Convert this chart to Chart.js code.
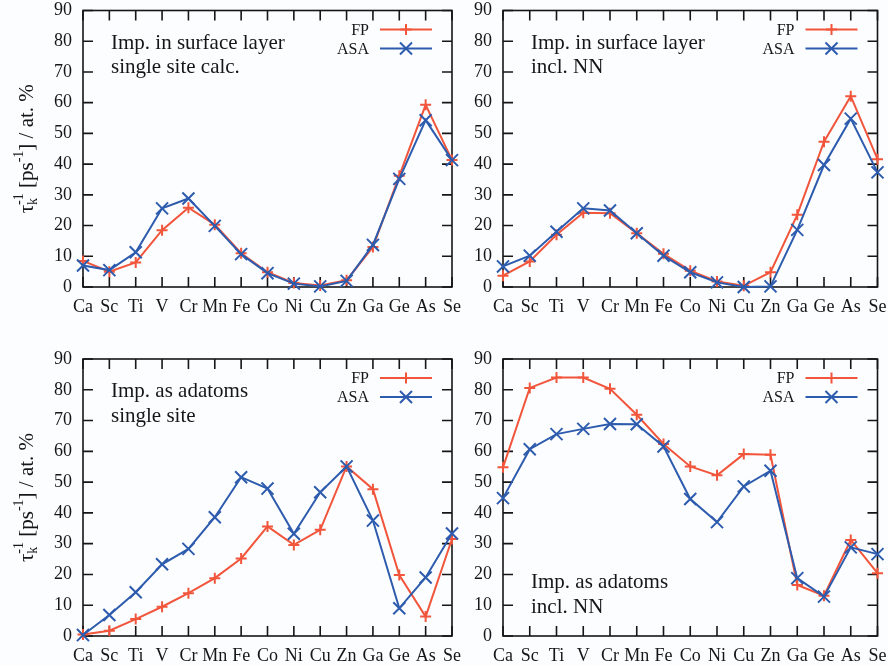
<!DOCTYPE html>
<html>
<head>
<meta charset="utf-8">
<script src="https://cdn.jsdelivr.net/npm/chart.js@4.4.1/dist/chart.umd.min.js"></script>
<style>
  html, body { margin: 0; padding: 0; background: #fcfdff; }
  #wrap { position: relative; width: 888px; height: 665px; overflow: hidden; }
  #wrap canvas { position: absolute; left: 0; top: 0; }
</style>
</head>
<body>
<div id="wrap">
  <canvas id="surf" width="888" height="700"></canvas>
  <canvas id="surfNN" width="888" height="700"></canvas>
  <canvas id="ad" width="888" height="700"></canvas>
  <canvas id="adNN" width="888" height="700"></canvas>
</div>
<script>
// impurities along the x axis
var elements = ['Ca', 'Sc', 'Ti', 'V', 'Cr', 'Mn', 'Fe', 'Co', 'Ni', 'Cu', 'Zn', 'Ga', 'Ge', 'As', 'Se'];
var yTickValues = [0, 10, 20, 30, 40, 50, 60, 70, 80, 90];

// impurity in surface layer, single site
var surfFP  = [8.5, 5.0, 8.0, 18.5, 25.8, 20.3, 11.0, 4.8, 1.3, 0.5, 2.2, 13.0, 36.2, 59.3, 41.3];
var surfASA = [7.0, 5.5, 11.3, 25.6, 28.8, 19.9, 10.7, 4.5, 1.1, 0.2, 2.0, 13.7, 35.2, 54.3, 41.3];
// impurity in surface layer, incl. nearest neighbours
var surfNNFP  = [3.7, 8.3, 17.0, 24.2, 24.0, 17.5, 10.8, 5.3, 1.8, 0.4, 4.8, 23.5, 47.3, 62.1, 41.6];
var surfNNASA = [6.7, 10.2, 18.0, 25.6, 24.9, 17.5, 10.2, 4.8, 1.5, 0.0, 0.2, 18.6, 39.7, 54.8, 37.3];
// adatoms, single site
var adFP  = [0.5, 1.7, 5.5, 9.5, 13.9, 18.8, 25.2, 35.6, 29.6, 34.5, 55.1, 47.7, 19.8, 6.3, 31.5];
var adASA = [0.3, 6.8, 14.2, 23.3, 28.3, 38.6, 51.6, 47.9, 33.2, 46.7, 55.1, 37.5, 9.0, 19.0, 33.3];
// adatoms, incl. nearest neighbours
var adNNFP  = [54.8, 80.6, 84.0, 84.0, 80.3, 71.9, 62.4, 55.1, 52.2, 59.1, 58.9, 16.6, 13.1, 31.2, 20.4];
var adNNASA = [44.8, 60.7, 65.6, 67.3, 68.9, 68.8, 61.6, 44.5, 37.0, 48.6, 53.7, 18.8, 12.8, 28.8, 26.6];

var RED = '#f1553b';
var BLUE = '#2d5bad';
var INK = '#161616';
var SERIF = '"Liberation Serif", "Times New Roman", serif';
var CANVAS_W = 888, CANVAS_H = 700;

function drawMark(ctx, style, x, y, r) {
  ctx.beginPath();
  if (style === 'cross') {
    ctx.moveTo(x - r, y); ctx.lineTo(x + r, y);
    ctx.moveTo(x, y - r); ctx.lineTo(x, y + r);
  } else {
    var d = r * 0.707;
    ctx.moveTo(x - d, y - d); ctx.lineTo(x + d, y + d);
    ctx.moveTo(x - d, y + d); ctx.lineTo(x + d, y - d);
  }
  ctx.stroke();
}

// gnuplot style box with inward ticks on all four sides
var framePlugin = {
  id: 'frame',
  beforeDatasetsDraw: function(chart) {
    var a = chart.chartArea, ctx = chart.ctx;
    var xs = chart.scales.x, ys = chart.scales.y;
    ctx.save();
    ctx.strokeStyle = INK;
    ctx.lineWidth = 1.6;
    ctx.beginPath();
    xs.ticks.forEach(function(t, i) {
      var px = xs.getPixelForTick(i);
      ctx.moveTo(px, a.bottom); ctx.lineTo(px, a.bottom - 10);
      ctx.moveTo(px, a.top); ctx.lineTo(px, a.top + 10);
    });
    ys.ticks.forEach(function(t) {
      var py = ys.getPixelForValue(t.value);
      ctx.moveTo(a.left, py); ctx.lineTo(a.left + 10, py);
      ctx.moveTo(a.right, py); ctx.lineTo(a.right - 10, py);
    });
    ctx.stroke();
    ctx.strokeRect(a.left, a.top, a.right - a.left, a.bottom - a.top);
    ctx.restore();
  }
};

// key, panel caption and rotated y title
var panelTextPlugin = {
  id: 'panelText',
  afterDraw: function(chart, args, opts) {
    var a = chart.chartArea, ctx = chart.ctx;
    ctx.save();
    ctx.fillStyle = INK;

    ctx.font = '16px ' + SERIF;
    ctx.textAlign = 'right';
    ctx.textBaseline = 'alphabetic';
    var keys = [['FP', RED, 'cross', 5.5], ['ASA', BLUE, 'crossRot', 8.5]];
    keys.forEach(function(k, i) {
      var y = a.top + 19 + i * 19;
      ctx.fillStyle = INK;
      ctx.fillText(k[0], a.right - 83, y + 5);
      ctx.strokeStyle = k[1];
      ctx.lineWidth = 2;
      ctx.beginPath();
      ctx.moveTo(a.right - 72, y); ctx.lineTo(a.right - 20, y);
      ctx.stroke();
      drawMark(ctx, k[2], a.right - 46, y, k[3]);
    });

    ctx.fillStyle = INK;
    ctx.textAlign = 'left';
    ctx.font = '21px ' + SERIF;
    var y0 = opts.bottom ? a.bottom - 48 : a.top + 38;
    opts.lines.forEach(function(s, i) {
      ctx.fillText(s, a.left + 28, y0 + i * 24.5);
    });

    // tau_k^-1 [ps^-1] / at. %
    if (opts.yTitle) {
      ctx.translate(33, (a.top + a.bottom) / 2);
      ctx.rotate(-Math.PI / 2);
      var big = '21px ' + SERIF, small = '14px ' + SERIF;
      ctx.font = big;
      var wTau = ctx.measureText('τ').width;
      var wMid = ctx.measureText(' [ps').width;
      var wEnd = ctx.measureText('] / at. %').width;
      ctx.font = small;
      var wSup = ctx.measureText('-1').width;
      var total = wTau + wSup + wMid + wSup + wEnd;
      var x = -total / 2;
      ctx.font = big;
      ctx.fillText('τ', x, 0);
      x += wTau;
      ctx.font = small;
      ctx.fillText('-1', x, -10);
      ctx.fillText('k', x, 4);
      x += wSup;
      ctx.font = big;
      ctx.fillText(' [ps', x, 0);
      x += wMid;
      ctx.font = small;
      ctx.fillText('-1', x, -10);
      x += wSup;
      ctx.font = big;
      ctx.fillText('] / at. %', x, 0);
    }
    ctx.restore();
  }
};

function makeChart(id, fp, asa, box, lines, atBottom, yTitle) {
  var ctx = document.getElementById(id).getContext('2d');
  return new Chart(ctx, {
    type: 'line',
    data: {
      labels: elements,
      datasets: [{
        label: 'FP',
        data: fp,
        borderColor: RED,
        backgroundColor: RED,
        borderWidth: 2,
        pointStyle: 'cross',
        pointRadius: 5.5,
        pointBorderWidth: 2,
        pointBorderColor: RED,
        tension: 0,
        clip: false,
        order: 2
      }, {
        label: 'ASA',
        data: asa,
        borderColor: BLUE,
        backgroundColor: BLUE,
        borderWidth: 2,
        pointStyle: 'crossRot',
        pointRadius: 8.5,
        pointBorderWidth: 2,
        pointBorderColor: BLUE,
        tension: 0,
        clip: false,
        order: 1
      }]
    },
    options: {
      responsive: false,
      animation: false,
      events: [],
      layout: {
        padding: { left: box[0] - 60, right: CANVAS_W - box[1], top: box[2], bottom: CANVAS_H - box[3] - 40 }
      },
      plugins: {
        legend: { display: false },
        tooltip: { enabled: false },
        panelText: { lines: lines, bottom: atBottom, yTitle: yTitle }
      },
      scales: {
        x: {
          type: 'category',
          offset: false,
          grid: { display: false, drawTicks: false },
          border: { display: false },
          ticks: { color: INK, font: { family: SERIF, size: 18 }, padding: 9, autoSkip: false, maxRotation: 0 },
          afterFit: function(s) { s.height = 40; s.paddingLeft = 0; s.paddingRight = 0; }
        },
        y: {
          min: 0,
          max: 90,
          grid: { display: false, drawTicks: false },
          border: { display: false },
          afterBuildTicks: function(s) { s.ticks = yTickValues.map(function(v) { return { value: v }; }); },
          ticks: { color: INK, font: { family: SERIF, size: 18 }, padding: 11 },
          afterFit: function(s) { s.width = 60; s.paddingTop = 0; s.paddingBottom = 0; }
        }
      }
    },
    plugins: [framePlugin, panelTextPlugin]
  });
}

makeChart('surf', surfFP, surfASA, [83, 452, 10, 287], ['Imp. in surface layer', 'single site calc.'], false, true);
makeChart('surfNN', surfNNFP, surfNNASA, [503, 882, 10, 287], ['Imp. in surface layer', 'incl. NN'], false, false);
makeChart('ad', adFP, adASA, [83, 452, 359, 636], ['Imp. as adatoms', 'single site'], false, true);
makeChart('adNN', adNNFP, adNNASA, [503, 882, 359, 636], ['Imp. as adatoms', 'incl. NN'], true, false);
</script>
</body>
</html>
